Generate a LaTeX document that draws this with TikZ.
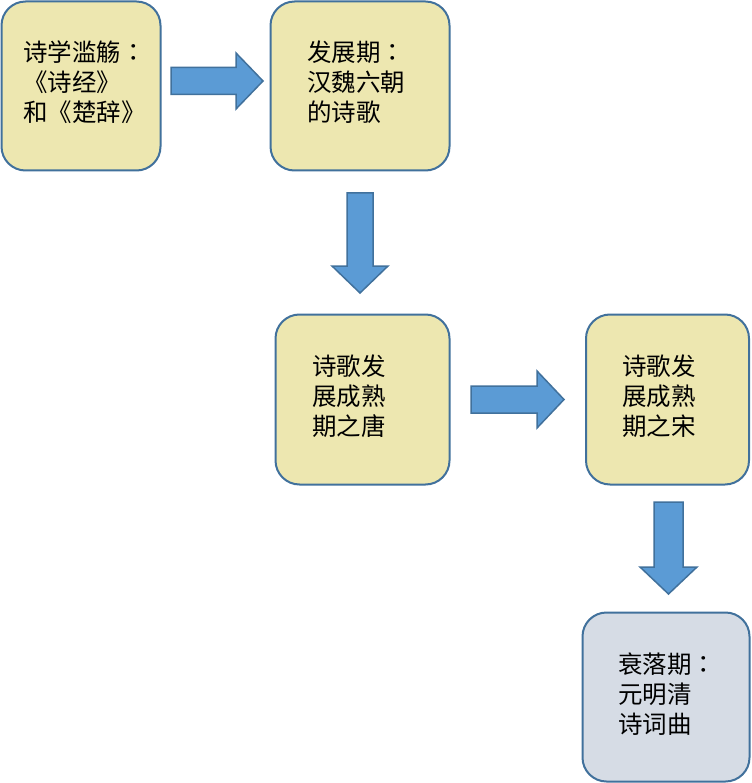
\documentclass[tikz,border=0pt]{standalone}
\usepackage{fontspec}
\newfontfamily\cjk{Noto Sans CJK SC}
\newfontfamily\cjktc{Noto Sans CJK TC}
\newcommand{\fwcolon}{{\cjktc ：}}
\definecolor{boxfill}{HTML}{EDE7B0}
\definecolor{boxfillb}{HTML}{D6DCE5}
\definecolor{edge}{HTML}{41719C}
\definecolor{arrowfill}{HTML}{5B9BD5}
\newcommand{\rightblock}[6]{%
  \draw[blockarrow] (#1,#4-#5) -- (#2,#4-#5) -- (#2,#4-#6) -- (#3,#4) -- (#2,#4+#6) -- (#2,#4+#5) -- (#1,#4+#5) -- cycle;}
\newcommand{\downblock}[6]{%
  \draw[blockarrow] (#4-#5,#1) -- (#4-#5,#2) -- (#4-#6,#2) -- (#4,#3) -- (#4+#6,#2) -- (#4+#5,#2) -- (#4+#5,#1) -- cycle;}
\begin{document}
\begin{tikzpicture}[x=1pt,y=-1pt,
  box/.style={draw=edge, line width=2pt, rounded corners=24pt, fill=boxfill, inner sep=0pt},
  boxb/.style={box, fill=boxfillb},
  label/.style={anchor=north west, inner sep=0pt, align=left, font=\cjk\fontsize{24.5}{30}\selectfont},
  blockarrow/.style={draw=edge, line width=1.5pt, fill=arrowfill, line join=miter}]
\useasboundingbox (0,0) rectangle (751,783);
\fill[white] (0,0) rectangle (751,783);
\node[box, minimum width=159pt, minimum height=169pt] (b1) at (81,86) {};
\node[box, minimum width=179pt, minimum height=169pt] (b2) at (360,86) {};
\node[box, minimum width=174pt, minimum height=170pt] (b3) at (362.5,399.5) {};
\node[box, minimum width=163pt, minimum height=170pt] (b4) at (667.5,399.5) {};
\node[boxb, minimum width=167pt, minimum height=169pt] (b5) at (666,697) {};
\node[label] (t1) at (23,41) {诗学滥觞\fwcolon\\《诗经》\\和《楚辞》};
\node[label] (t2) at (307,41) {发展期\fwcolon\\汉魏六朝\\的诗歌};
\node[label] (t3) at (312,355) {诗歌发\\展成熟\\期之唐};
\node[label] (t4) at (622,355) {诗歌发\\展成熟\\期之宋};
\node[label] (t5) at (618,653) {衰落期\fwcolon\\元明清\\诗词曲};
\rightblock{171}{236}{263}{81}{13.5}{28}
\downblock{193}{266}{293}{360}{13}{28}
\rightblock{471}{537}{564}{399.5}{13.5}{28.5}
\downblock{502}{567}{594}{668.5}{14.5}{28.5}
\end{tikzpicture}
\end{document}
